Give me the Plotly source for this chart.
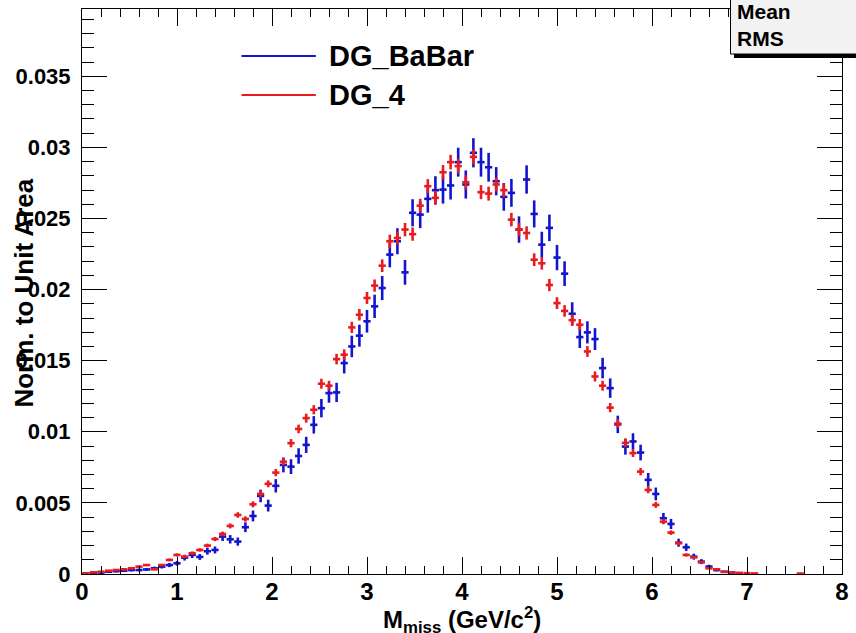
import numpy as np
import plotly.graph_objects as go

# ---------------- data ----------------
BIN_WIDTH = 0.08
bin_centers = [round(0.04 + 0.08 * i, 2) for i in range(100)]

# DG_BaBar (blue), normalised to unit area; None = empty bin (not drawn)
dg_babar = [
    0.00002, 0.00005, 0.00010, 0.00016, 0.00020, 0.00023, 0.00028, 0.00028, 0.00032, 0.00040,
    0.00052, 0.00063, 0.00075, 0.00115, 0.00134, 0.00120, 0.00160, 0.00169, 0.00263, 0.00244,
    0.00228, 0.00329, 0.00408, 0.00549, 0.00481, 0.00620, 0.00767, 0.00755, 0.00830, 0.00908,
    0.01049, 0.01166, 0.01272, 0.01277, 0.01483, 0.01600, 0.01676, 0.01777, 0.01882, 0.02011,
    0.02246, 0.02340, 0.02121, 0.02540, 0.02527, 0.02638, 0.02699, 0.02703, 0.02732, 0.02896,
    0.02739, 0.02962, 0.02896, 0.02860, 0.02762, 0.02652, 0.02680, 0.02422, 0.02774, 0.02532,
    0.02316, 0.02434, 0.02225, 0.02112, 0.01830, 0.01666, 0.01699, 0.01652, 0.01448, 0.01307,
    0.01052, 0.00896, 0.00932, 0.00854, 0.00662, 0.00563, 0.00392, 0.00352, 0.00220, 0.00188,
    0.00122, 0.00087, 0.00052, 0.00028, 0.00015, 0.00010, 0.00005, None, None, None,
    None, None, None, None, None, None, None, None, None, None,
]

# DG_4 (red)
dg_4 = [
    0.00005, 0.00012, 0.00016, 0.00023, 0.00028, 0.00033, 0.00040, 0.00052, 0.00063, 0.00033,
    0.00063, 0.00099, 0.00134, 0.00122, 0.00146, 0.00169, 0.00200, 0.00246, 0.00282, 0.00338,
    0.00415, 0.00387, 0.00490, 0.00563, 0.00634, 0.00713, 0.00790, 0.00920, 0.01020, 0.01096,
    0.01155, 0.01338, 0.01324, 0.01511, 0.01542, 0.01734, 0.01823, 0.01941, 0.02028, 0.02168,
    0.02340, 0.02363, 0.02422, 0.02390, 0.02590, 0.02727, 0.02645, 0.02825, 0.02896, 0.02868,
    0.02755, 0.02933, 0.02685, 0.02675, 0.02739, 0.02699, 0.02492, 0.02422, 0.02398, 0.02210,
    0.02185, 0.02032, 0.01905, 0.01850, 0.01785, 0.01753, 0.01565, 0.01389, 0.01324, 0.01170,
    0.01058, 0.00922, 0.00850, 0.00720, 0.00591, 0.00486, 0.00368, 0.00291, 0.00216, 0.00134,
    0.00117, 0.00082, 0.00040, 0.00033, 0.00016, 0.00010, 0.00008, 0.00006, 0.00004, None,
    None, None, None, None, 0.00003, None, None, None, None, None,
]

# effective event counts, used for the Poisson error of a unit-area histogram
EVENTS_BABAR = 28000
EVENTS_DG4 = 110000

series_names = ["DG_BaBar", "DG_4"]
series_colors = ["rgb(20,20,205)", "rgb(232,28,32)"]

x_tick_vals = [0, 1, 2, 3, 4, 5, 6, 7, 8]
y_tick_vals = [0, 0.005, 0.01, 0.015, 0.02, 0.025, 0.03, 0.035]
y_tick_text = ["0", "0.005", "0.01", "0.015", "0.02", "0.025", "0.03", "0.035"]


def poisson_err(vals, n_events):
    return [None if v is None else float(np.sqrt(v / n_events)) for v in vals]


# ---------------- figure ----------------
W, H = 856, 633
L, R, T, B = 82, 7, 9, 59
PW, PH = W - L - R, H - T - B


def px_to_paper_x(px):
    return (px - L) / PW


def py_to_paper_y(py):
    return (H - B - py) / PH


FONT = "Liberation Sans"

fig = go.Figure()

for name, vals, nev, col in [
    (series_names[0], dg_babar, EVENTS_BABAR, series_colors[0]),
    (series_names[1], dg_4, EVENTS_DG4, series_colors[1]),
]:
    fig.add_trace(go.Scatter(
        x=bin_centers, y=vals, mode="markers", name=name,
        marker=dict(size=1, color=col, opacity=0),
        error_x=dict(type="constant", value=BIN_WIDTH / 2 * 0.95, width=0,
                     thickness=2.6, color=col),
        error_y=dict(type="data", array=poisson_err(vals, nev), width=0,
                     thickness=2.6, color=col),
        showlegend=False,
        cliponaxis=True,
    ))

shapes = []
annotations = []

# stats box (shadow + box)
shapes.append(dict(type="rect", xref="paper", yref="paper",
                   x0=px_to_paper_x(740), x1=px_to_paper_x(880),
                   y0=py_to_paper_y(58), y1=py_to_paper_y(-10),
                   fillcolor="black", line=dict(width=0), layer="above"))
shapes.append(dict(type="rect", xref="paper", yref="paper",
                   x0=px_to_paper_x(736.5), x1=px_to_paper_x(880),
                   y0=py_to_paper_y(54), y1=py_to_paper_y(-10),
                   fillcolor="#f2f2f2", line=dict(color="black", width=1), layer="above"))
annotations.append(dict(text="<b>Mean</b>", xref="paper", yref="paper",
                        x=px_to_paper_x(741), y=py_to_paper_y(12),
                        xanchor="left", yanchor="middle", showarrow=False,
                        font=dict(family=FONT, size=21, color="black")))
annotations.append(dict(text="<b>RMS</b>", xref="paper", yref="paper",
                        x=px_to_paper_x(741), y=py_to_paper_y(38),
                        xanchor="left", yanchor="middle", showarrow=False,
                        font=dict(family=FONT, size=21, color="black")))

# legend
for i, (name, col) in enumerate(zip(series_names, series_colors)):
    ly = [56, 95][i]
    shapes.append(dict(type="line", xref="paper", yref="paper",
                       x0=px_to_paper_x(243), x1=px_to_paper_x(318),
                       y0=py_to_paper_y(ly), y1=py_to_paper_y(ly),
                       line=dict(color=col, width=2)))
    annotations.append(dict(text="<b>%s</b>" % name, xref="paper", yref="paper",
                            x=px_to_paper_x(329), y=py_to_paper_y(ly),
                            xanchor="left", yanchor="middle", showarrow=False,
                            font=dict(family=FONT, size=29, color="black")))

# axis titles
annotations.append(dict(text="<b>M<sub>miss</sub> (GeV/c<sup>2</sup>)</b>",
                        xref="paper", yref="paper",
                        x=px_to_paper_x(465), y=py_to_paper_y(620),
                        xanchor="center", yanchor="middle", showarrow=False,
                        font=dict(family=FONT, size=24, color="black")))
annotations.append(dict(text="<b>Norm. to Unit Area</b>",
                        xref="paper", yref="paper",
                        x=px_to_paper_x(23), y=py_to_paper_y(293),
                        xanchor="center", yanchor="middle", showarrow=False,
                        textangle=-90,
                        font=dict(family=FONT, size=26, color="black")))

fig.update_layout(
    width=W, height=H,
    margin=dict(l=L, r=R, t=T, b=B, pad=0),
    paper_bgcolor="white", plot_bgcolor="white",
    shapes=shapes, annotations=annotations,
    showlegend=False,
    xaxis=dict(
        range=[0, 8], tickmode="array", tickvals=x_tick_vals,
        ticks="inside", ticklen=17, tickwidth=1, tickcolor="black",
        minor=dict(dtick=0.2, ticks="inside", ticklen=8, tickwidth=1, tickcolor="black"),
        showline=True, linecolor="black", linewidth=1, mirror="ticks",
        showgrid=False, zeroline=False,
        tickfont=dict(family=FONT, size=24, color="black", weight="bold"),
        ticklabelstandoff=-4,
    ),
    yaxis=dict(
        range=[0, 0.03973], tickmode="array", tickvals=y_tick_vals,
        ticktext=y_tick_text,
        ticks="inside", ticklen=25, tickwidth=1, tickcolor="black",
        minor=dict(dtick=0.001, ticks="inside", ticklen=12, tickwidth=1, tickcolor="black"),
        showline=True, linecolor="black", linewidth=1, mirror="ticks",
        showgrid=False, zeroline=False,
        tickfont=dict(family=FONT, size=22, color="black", weight="bold"),
        ticklabelstandoff=6,
    ),
)

fig.write_html("out.html")
